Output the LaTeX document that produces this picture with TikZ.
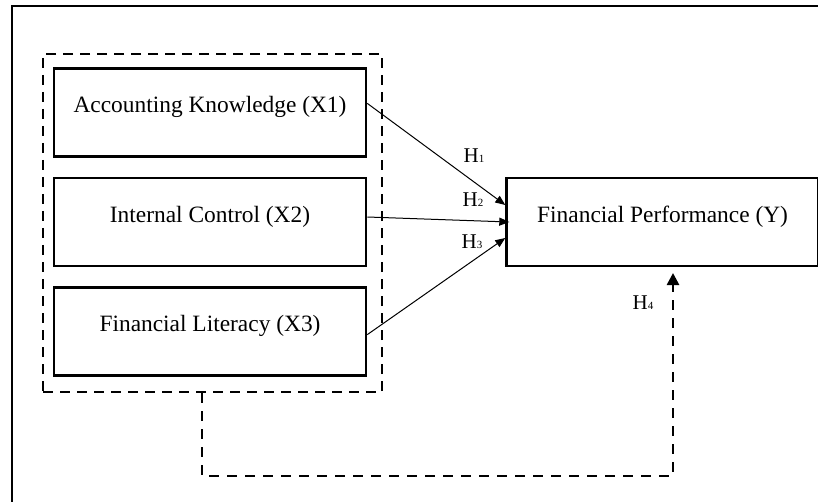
\documentclass[tikz,border=0pt]{standalone}
\usepackage{fontspec}
\setmainfont{Liberation Serif}
\usetikzlibrary{arrows.meta, positioning}

\newcommand{\hyp}[1]{H{\fontsize{5.5}{6}\selectfont #1}}

\begin{document}
\begin{tikzpicture}[
  x=0.5pt, y=-0.5pt,
  node distance=9.5pt,
  varbox/.style={draw, line width=1.3pt, minimum width=156pt, minimum height=44pt, text height=6pt, text depth=6pt, font=\fontsize{11.7}{14}\selectfont},
  dashgroup/.style={draw, line width=1.3pt, dash pattern=on 5pt off 3.5pt, minimum width=169.5pt, minimum height=169pt},
  hlabel/.style={inner sep=0pt, font=\fontsize{10.5}{12}\selectfont},
  arrow/.style={-{Triangle[length=5pt, width=4pt]}, line width=0.5pt},
  dasharrow/.style={-{Triangle[length=6pt, width=6pt]}, line width=1.3pt, dash pattern=on 5pt off 4pt}
]
\useasboundingbox (0,0) rectangle (818,502);
\draw[line width=1.3pt] (12,502) -- (12,6) -- (818,6);

\node[dashgroup] (indep) at (212.5,223) {};
\node[varbox] (internal) at (210,222) {Internal Control (X2)};
\node[varbox, above=of internal] (accounting) {Accounting Knowledge (X1)};
\node[varbox, below=of internal] (literacy) {Financial Literacy (X3)};
\node[varbox, right=69pt of internal] (perf) {Financial Performance (Y)};

\node[hlabel] (h1) at (474,156) {\hyp{1}};
\node[hlabel] (h2) at (473,200) {\hyp{2}};
\node[hlabel] (h3) at (472,242) {\hyp{3}};
\node[hlabel] (h4) at (643,303) {\hyp{4}};

\draw[arrow] ([yshift=4.5pt]accounting.east) -- ([yshift=8.5pt]perf.west);
\draw[arrow] ([yshift=2.5pt]internal.east) -- ([xshift=2pt]perf.west);
\draw[arrow] ([yshift=-1.5pt]literacy.east) -- ([yshift=-8pt]perf.west);

\coordinate (tip) at (673,273);
\coordinate (turn) at (673,476);
\draw[dasharrow] ([xshift=-5.25pt]indep.south) |- (turn) -- (tip);

\end{tikzpicture}
\end{document}
